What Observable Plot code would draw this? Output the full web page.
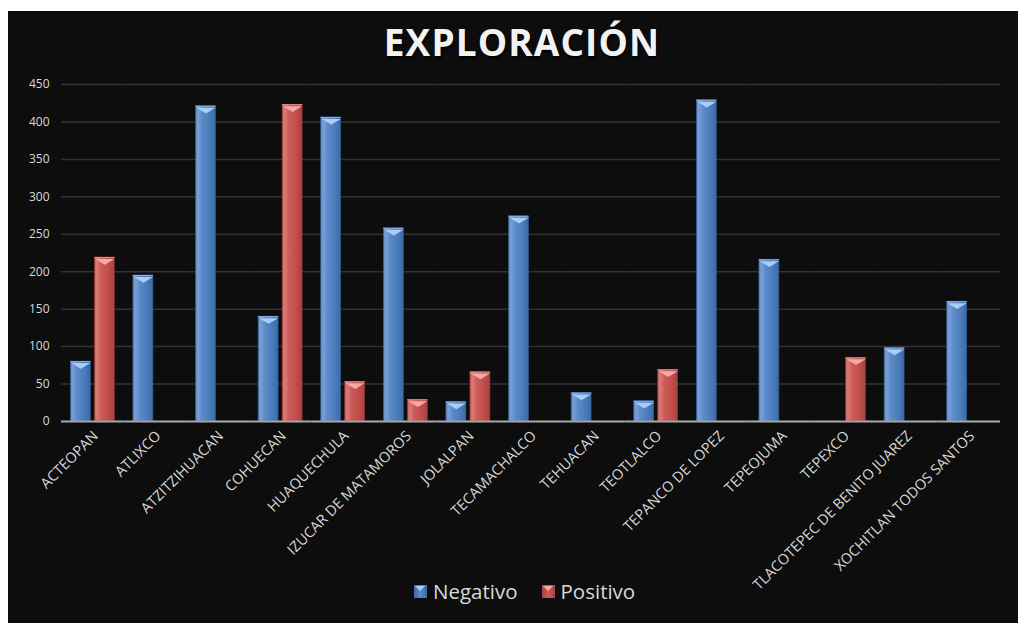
<!DOCTYPE html>
<html><head><meta charset="utf-8">
<script src="https://cdn.jsdelivr.net/npm/d3@7"></script>
<script src="https://cdn.jsdelivr.net/npm/@observablehq/plot@0.6"></script>
<style>
html,body{margin:0;padding:0;background:#fff;}
#frame{position:absolute;left:8px;top:11px;width:1010px;height:612px;background:#0d0d0d;overflow:hidden;font-family:"Open Sans",sans-serif;}
#title{position:absolute;left:0;width:1010px;top:12px;line-height:38px;text-align:center;color:#f2f2f2;font-weight:700;font-size:37px;letter-spacing:1.1px;text-shadow:1px 2px 3px #000;padding-left:18px;box-sizing:border-box;}
#chart{position:absolute;left:0;top:60px;}
#legend{position:absolute;left:406px;top:570px;display:flex;align-items:flex-start;font-size:20.5px;line-height:20px;color:#d9d9d9;}
.sw{width:13px;height:13px;margin-top:4px;margin-right:6px;position:relative;box-sizing:border-box;}
.sw::after{content:"";position:absolute;left:1px;top:1px;width:0;height:0;border-left:5.5px solid transparent;border-right:5.5px solid transparent;border-top:5px solid var(--c);}
.item{display:flex;margin-right:24px;}
</style>
</head><body>
<div id="frame">
  <div id="title">EXPLORACIÓN</div>
  <div id="chart"></div>
  <div id="legend"></div>
</div>
<script>
const categories = ["ACTEOPAN","ATLIXCO","ATZITZIHUACAN","COHUECAN","HUAQUECHULA","IZUCAR DE MATAMOROS","JOLALPAN","TECAMACHALCO","TEHUACAN","TEOTLALCO","TEPANCO DE LOPEZ","TEPEOJUMA","TEPEXCO","TLACOTEPEC DE BENITO JUAREZ","XOCHITLAN TODOS SANTOS"];
const negativo = [80, 195, 421, 140, 406, 258, 26, 274, 38, 27, 429, 216, null, 98, 160];
const positivo = [219, null, null, 423, 53, 29, 66, null, null, 69, null, null, 85, null, null];
const seriesNames = ["Negativo","Positivo"];
const yTicks = [0,50,100,150,200,250,300,350,400,450];

const rows = [];
categories.forEach((c,i)=>{
  if (negativo[i] != null) rows.push({category:c, series:"Negativo", value:negativo[i]});
  if (positivo[i] != null) rows.push({category:c, series:"Positivo", value:positivo[i]});
});
const neg = rows.filter(d=>d.series==="Negativo");
const pos = rows.filter(d=>d.series==="Positivo");

const chevron = {draw(ctx, size){ const r = Math.sqrt(size/Math.PI); ctx.moveTo(-r,1.5); ctx.lineTo(r,1.5); ctx.lineTo(0,1.5+0.6*r); ctx.closePath(); }};

const chart = Plot.plot({
  width: 1010, height: 500,
  marginLeft: 53, marginRight: 18, marginTop: 13, marginBottom: 150,
  style: {background:"transparent", color:"#d9d9d9", fontFamily:"Open Sans, sans-serif", overflow:"visible"},
  fx: {domain: categories, padding: 0, round: false},
  x: {domain: seriesNames, paddingInner: 1/6, paddingOuter: 0.387, align: 0.5, round: false, axis: null},
  y: {domain: [0,450]},
  marks: [
    Plot.gridY(yTicks, {stroke:"#333333", strokeOpacity:1, strokeWidth:1.5}),
    Plot.axisY(yTicks, {tickSize:0, tickPadding:12, fontSize:12, fill:"#d9d9d9", label:null}),
    Plot.barY(neg, {fx:"category", x:"series", y:"value", fill:"url(#gNeg)", stroke:"#2f5a8e", strokeWidth:0.6}),
    Plot.barY(pos, {fx:"category", x:"series", y:"value", fill:"url(#gPos)", stroke:"#8e3532", strokeWidth:0.6}),
    Plot.tickY(neg, {fx:"category", x:"series", y:"value", stroke:"#8fb4e3", strokeWidth:1}),
    Plot.tickY(pos, {fx:"category", x:"series", y:"value", stroke:"#e8928f", strokeWidth:1}),
    Plot.dot(neg, {fx:"category", x:"series", y:"value", symbol: chevron, r: 9.5, fill:"#a8cdf6", stroke:"none"}),
    Plot.dot(pos, {fx:"category", x:"series", y:"value", symbol: chevron, r: 9.5, fill:"#f5aaa7", stroke:"none"}),
    Plot.ruleY([0], {stroke:"#a6a6a6", strokeWidth:2}),
    Plot.axisFx({anchor:"bottom", tickRotate:-45, tickSize:0, tickPadding:12, fontSize:14.5, fill:"#d9d9d9", label:null, dx:3})
  ]
});

const svg = d3.select(chart);
const defs = svg.insert("defs", ":first-child");
function grad(id, stops){
  const g = defs.append("linearGradient").attr("id", id).attr("x1","0").attr("x2","1").attr("y1","0").attr("y2","0");
  stops.forEach(([o,c])=>g.append("stop").attr("offset",o).attr("stop-color",c));
}
grad("gNeg", [[0,"#5a86c2"],[0.12,"#7aa0d4"],[0.35,"#5b8ac8"],[0.7,"#4a7cbc"],[1,"#3d6aa6"]]);
grad("gPos", [[0,"#c55a57"],[0.12,"#db7b78"],[0.35,"#cc5a57"],[0.7,"#c04e4b"],[1,"#a84240"]]);
document.getElementById("chart").appendChild(chart);

const legend = document.getElementById("legend");
const legendStyle = {Negativo:["linear-gradient(90deg,#3d6aa6,#5b8ac8,#3d6aa6)","#a8cdf6"], Positivo:["linear-gradient(90deg,#a84240,#cc5a57,#a84240)","#f5aaa7"]};
seriesNames.forEach(s=>{
  const it = document.createElement("div"); it.className="item";
  const sw = document.createElement("div"); sw.className="sw";
  sw.style.background = legendStyle[s][0]; sw.style.setProperty("--c", legendStyle[s][1]);
  const t = document.createElement("span"); t.textContent = s;
  it.appendChild(sw); it.appendChild(t); legend.appendChild(it);
});
</script>
</body></html>
